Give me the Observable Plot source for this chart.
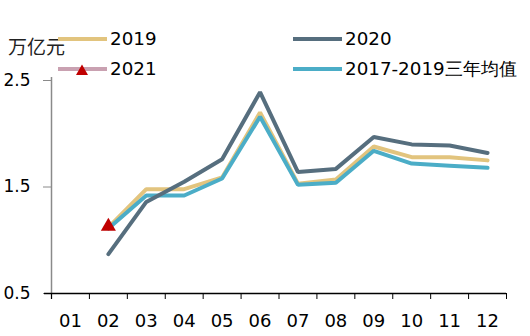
<!DOCTYPE html>
<html><head><meta charset="utf-8">
<script src="https://cdn.jsdelivr.net/npm/d3@7"></script>
<script src="https://cdn.jsdelivr.net/npm/@observablehq/plot@0.6"></script>
<style>
body{margin:0;background:#fff;font-family:"DejaVu Sans",sans-serif}
#wrap{position:relative;width:530px;height:336px;overflow:hidden}
#wrap svg{position:absolute;left:0;top:0}
.lg{position:absolute;font-size:18.3px;color:#000;line-height:1;white-space:nowrap}
.sw{position:absolute;height:4px;width:49px}
.cjk{font-family:"Noto Sans CJK SC",sans-serif;font-size:19px;color:#222}
</style></head><body><div id="wrap"></div>
<script>
const months = ["01","02","03","04","05","06","07","08","09","10","11","12"];
const yTicks = [0.5, 1.5, 2.5];
const unitLabel = "万亿元";
const seriesNames = ["2019", "2020", "2021", "2017-2019三年均值"];
const s2019 = [null, 1.12, 1.48, 1.48, 1.59, 2.20, 1.53, 1.57, 1.88, 1.78, 1.78, 1.75];
const s2020 = [null, 0.87, 1.36, 1.55, 1.76, 2.39, 1.64, 1.67, 1.97, 1.90, 1.89, 1.82];
const s2021 = [null, 1.13, null, null, null, null, null, null, null, null, null, null];
const sAvg  = [null, 1.11, 1.42, 1.42, 1.58, 2.16, 1.52, 1.54, 1.84, 1.72, 1.70, 1.68];

const colors = {"2019":"#E2C47E","2020":"#566E7E","2021":"#C9A1B1","2017-2019三年均值":"#4BADC7"};
const toRows = (name, vals) => vals.map((v,i)=>({series:name, m:i+1, v})).filter(d=>d.v!=null);
const d2019 = toRows("2019", s2019), d2020 = toRows("2020", s2020), d2021 = toRows("2021", s2021), dAvg = toRows("2017-2019三年均值", sAvg);
const mIdx = months.map((_,i)=>i+1);
const bounds = d3.range(0.5, months.length + 1, 1);

const chart = Plot.plot({
  width: 530, height: 336,
  marginTop: 80, marginBottom: 43, marginLeft: 51, marginRight: 24,
  x: {domain: [0.5, months.length + 0.5]},
  y: {domain: [0.5, 2.5]},
  style: {fontFamily: "DejaVu Sans", fontSize: "17px", color: "#000", background: "transparent"},
  marks: [
    Plot.ruleX([0.5], {stroke: "#8a8a8a", strokeWidth: 1.5, insetBottom: -6, insetTop: -3}),
    Plot.axisY({ticks: yTicks, tickFormat: d3.format(".1f"), tickSize: 8, tickPadding: 13, stroke: "#8a8a8a", fill: "#000", label: null, fontSize: 17}),
    Plot.ruleY([0.5], {stroke: "#000", strokeWidth: 1.3, insetLeft: -7}),
    Plot.axisX({ticks: bounds, tickFormat: () => "", tickSize: 6, stroke: "#000", label: null}),
    Plot.axisX({ticks: mIdx, tickFormat: d => months[d-1], tickSize: 0, tickPadding: 21, label: null, fontSize: 18}),
    Plot.line(d2019, {x: "m", y: "v", stroke: colors["2019"], strokeWidth: 4, strokeLinejoin: "miter"}),
    Plot.line(dAvg, {x: "m", y: "v", stroke: colors["2017-2019三年均值"], strokeWidth: 4, strokeLinejoin: "miter"}),
    Plot.line(d2020, {x: "m", y: "v", stroke: colors["2020"], strokeWidth: 4, strokeLinejoin: "miter"}),
    Plot.line(d2021, {x: "m", y: "v", stroke: colors["2021"], strokeWidth: 4}),
    Plot.dot(d2021, {x: "m", y: "v", symbol: "triangle", fill: "#C00000", r: 5.6, stroke: "none"})
  ]
});
const wrap = document.getElementById("wrap");
wrap.appendChild(chart);

function addText(txt, left, top, cls) {
  const d = document.createElement("div");
  d.className = "lg" + (cls ? " " + cls : "");
  d.style.left = left + "px"; d.style.top = top + "px";
  d.textContent = txt; wrap.appendChild(d);
}
function addSwatch(color, left, top) {
  const d = document.createElement("div");
  d.className = "sw"; d.style.left = left + "px"; d.style.top = top + "px"; d.style.background = color;
  wrap.appendChild(d);
}
addText(unitLabel, 8, 36, "cjk");
addSwatch(colors["2019"], 58, 37);
addText(seriesNames[0], 110, 30);
addSwatch(colors["2020"], 293, 37);
addText(seriesNames[1], 345, 30);
addSwatch(colors["2021"], 58, 67);
addText(seriesNames[2], 110, 60);
addSwatch(colors["2017-2019三年均值"], 293, 67);
addText(seriesNames[3], 345, 60);
// legend marker for 2021
const ns = "http://www.w3.org/2000/svg";
const tri = document.createElementNS(ns, "svg");
tri.setAttribute("width", 14); tri.setAttribute("height", 12);
tri.style.position = "absolute"; tri.style.left = "75px"; tri.style.top = "64px";
const p = document.createElementNS(ns, "polygon");
p.setAttribute("points", "7,0.5 13,11 1,11"); p.setAttribute("fill", "#C00000");
tri.appendChild(p); wrap.appendChild(tri);
</script></body></html>
